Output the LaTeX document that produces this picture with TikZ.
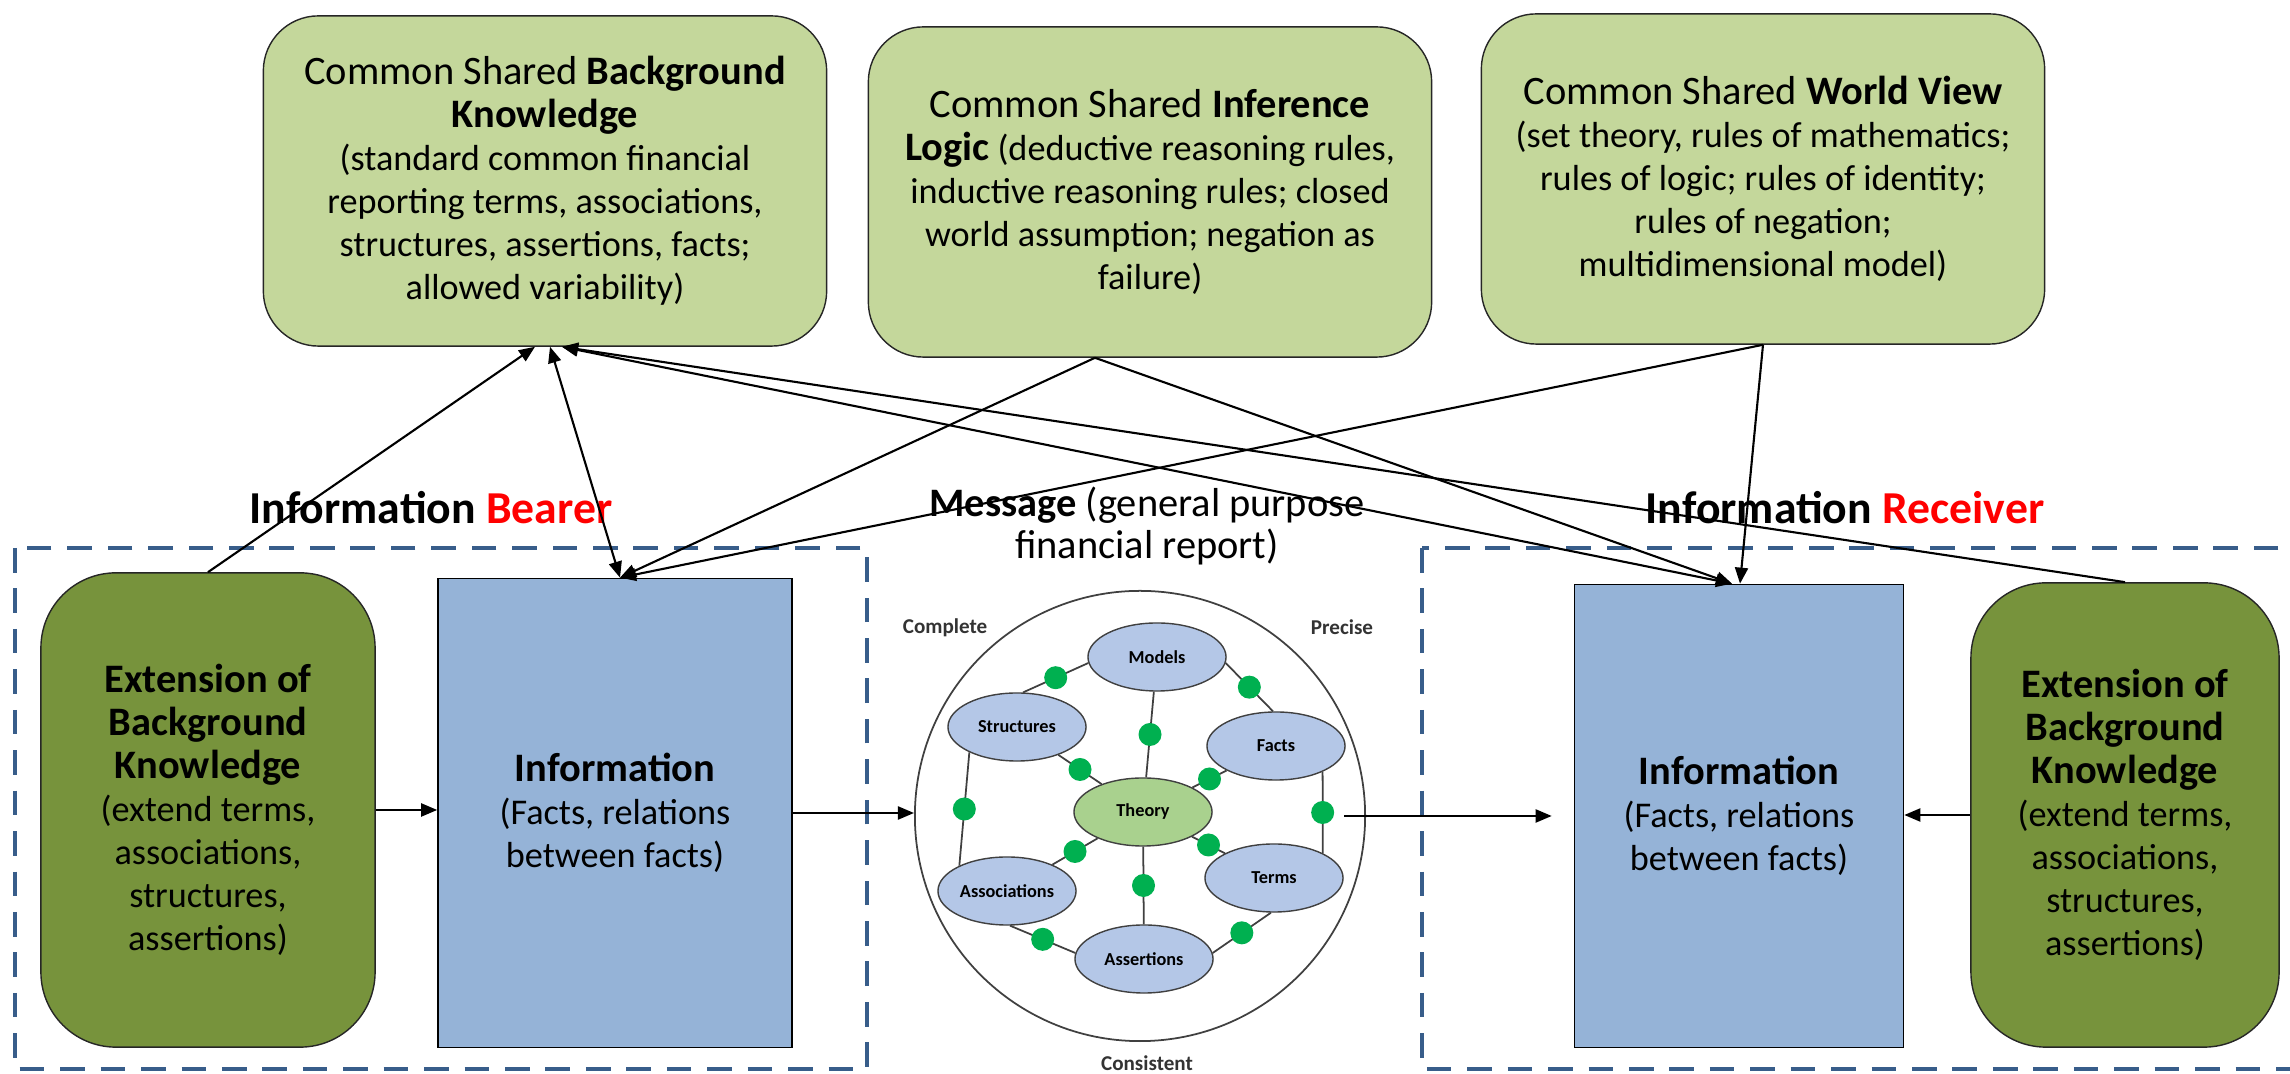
\documentclass[tikz,border=0pt]{standalone}
\usepackage{fontspec}
\setmainfont{Carlito}
\usetikzlibrary{positioning,arrows.meta,calc,shapes.geometric}

\definecolor{sharedgreen}{HTML}{C4D79B}
\definecolor{extgreen}{HTML}{77933C}
\definecolor{infoblue}{HTML}{95B3D7}
\definecolor{bubblue}{HTML}{B4C7E7}
\definecolor{theorygreen}{HTML}{A9D18E}
\definecolor{dotgreen}{HTML}{00B050}
\definecolor{frameblue}{HTML}{385D8A}

\newcommand{\headfont}{\fontsize{11.5}{14}\selectfont}
\newcommand{\bodyfont}{\fontsize{10.3}{12.2}\selectfont}

\begin{document}
\begin{tikzpicture}[
  x=0.01cm, y=-0.01cm,
  shared/.style={rectangle, rounded corners=0.55cm, draw=black!85, fill=sharedgreen, minimum width=5.63cm, minimum height=3.3cm, align=center, font=\bodyfont},
  ext/.style={rectangle, rounded corners=0.75cm, draw=black!85, fill=extgreen, align=center, font=\bodyfont},
  info/.style={rectangle, draw, fill=infoblue, align=center, font=\bodyfont},
  bub/.style={ellipse, draw=black!75, fill=bubblue, minimum width=1.38cm, minimum height=0.68cm, inner sep=0pt, font=\fontsize{5.2}{6}\selectfont\bfseries},
  gdot/.style={circle, fill=dotgreen, inner sep=0pt, minimum size=0.23cm},
  side/.style={font=\fontsize{13}{15}\selectfont\bfseries},
  quality/.style={font=\fontsize{6}{7}\selectfont\bfseries, text=black!80},
  groupframe/.style={draw=frameblue, line width=1.1pt, dash pattern=on 7pt off 4.5pt},
  arrow/.style={-{Triangle[length=0.16cm,width=0.13cm]}, line width=0.6pt},
  dblarrow/.style={{Triangle[length=0.16cm,width=0.13cm]}-{Triangle[length=0.16cm,width=0.13cm]}, line width=0.6pt}
]
\useasboundingbox (0,0) rectangle (2290,1074);

% Bearer and receiver groups
\draw[groupframe] (15,548) rectangle (867,1069);
\draw[groupframe] (1422,548) rectangle (2320,1069);

% Shared background boxes
\node[shared] (bk) at (545,181) {{\headfont Common Shared \textbf{Background}}\\{\headfont\textbf{Knowledge}}\\(standard common financial\\reporting terms, associations,\\structures, assertions, facts;\\allowed variability)};
\node[shared] (logic) at (1150,192) {{\headfont Common Shared \textbf{Inference}}\\{\headfont\textbf{Logic}} (deductive reasoning rules,\\inductive reasoning rules; closed\\world assumption; negation as\\failure)};
\node[shared] (world) at (1763,179) {{\headfont Common Shared \textbf{World View}}\\(set theory, rules of mathematics;\\rules of logic; rules of identity;\\rules of negation;\\multidimensional model)};

% Headings
\node[side] (bearer) at (431,508) {Information \textcolor{red}{Bearer}};
\node[side] (receiver) at (1845,508) {Information \textcolor{red}{Receiver}};
\node[align=center] (msglabel) at (1147,526) {{\headfont\textbf{Message} (general purpose}\\{\headfont financial report)}};

% Bearer side
\node[ext, minimum width=3.34cm, minimum height=4.74cm] (extL) at (208,810) {{\headfont\bfseries Extension of}\\{\headfont\bfseries Background}\\{\headfont\bfseries Knowledge}\\(extend terms,\\associations,\\structures,\\assertions)};
\node[info, minimum width=3.54cm, minimum height=4.69cm] (infoL) at (615,813) {{\headfont\bfseries Information}\\(Facts, relations\\between facts)};

% Receiver side
\node[info, minimum width=3.29cm, minimum height=4.63cm] (infoR) at (1739,816) {{\headfont\bfseries Information}\\(Facts, relations\\between facts)};
\node[ext, minimum width=3.08cm, minimum height=4.64cm] (extR) at (2125,815) {{\headfont\bfseries Extension of}\\{\headfont\bfseries Background}\\{\headfont\bfseries Knowledge}\\(extend terms,\\associations,\\structures,\\assertions)};

% Message
\node[circle, draw=black!75, line width=0.5pt, minimum size=4.5cm] (msg) at (1140,816) {};
\node[quality] (complete) at (945,628) {Complete};
\node[quality] (precise) at (1342,627) {Precise};
\node[quality] (consistent) at (1147,1063) {Consistent};

\node[bub] (mod) at (1157,657) {Models};
\node[bub] (str) at (1017,727) {Structures};
\node[bub] (facts) at (1276,746) {Facts};
\node[bub, fill=theorygreen] (theory) at (1143,812) {Theory};
\node[bub] (assoc) at (1007,891) {Associations};
\node[bub] (terms) at (1274,878) {Terms};
\node[bub] (assert) at (1144,959) {Assertions};

\foreach \a/\b [count=\i] in {str.80/mod.185, mod.-5/facts.95, mod/theory, str/theory, facts/theory, str.208/assoc.152, facts.331/terms.27, theory/assoc, theory/terms, theory/assert, assoc.275/assert.175, terms.265/assert.5}
  \draw[black!75, line width=0.5pt] (\a) -- node[gdot] (d\i) {} (\b);

% Flow of the message
\draw[arrow] (extL.east) -- (extL.east -| infoL.west);
\draw[arrow] (infoL.east) -- (infoL.east -| msg.west);
\draw[arrow] ([xshift=-0.22cm]msg.east) -- ([xshift=-0.22cm]msg.east -| infoR.west);
\draw[arrow] (extR.west) -- (extR.west -| infoR.east);

% Links to the shared boxes
\draw[arrow] (extL.north) -- ([xshift=-0.1cm]bk.south);
\draw[dblarrow] ([xshift=0.05cm]bk.south) -- ([xshift=0.05cm]infoL.north);
\draw[dblarrow] ([xshift=0.17cm]bk.south) -- ([xshift=-0.07cm]infoR.north);
\draw[arrow] (extR.north) -- ([xshift=0.17cm]bk.south);
\draw[arrow] ([xshift=-0.55cm]logic.south) -- ([xshift=0.05cm]infoL.north);
\draw[arrow] ([xshift=-0.55cm]logic.south) -- ([xshift=-0.07cm]infoR.north);
\draw[arrow] (world.south) -- ([xshift=0.05cm]infoL.north);
\draw[arrow] (world.south) -- ([xshift=0.01cm]infoR.north);

\end{tikzpicture}
\end{document}
